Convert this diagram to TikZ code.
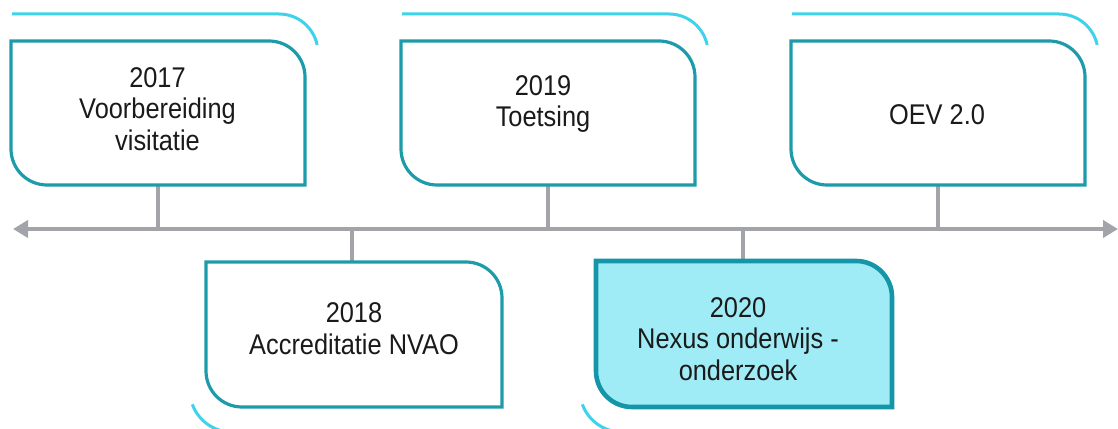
\documentclass[tikz,border=0pt]{standalone}
\usepackage{fontspec}
\setmainfont{Liberation Sans}[FakeStretch=0.89]
\usetikzlibrary{arrows.meta}
\definecolor{tealline}{HTML}{1E9BAB}
\definecolor{tealdark}{HTML}{1596A8}
\definecolor{accentc}{HTML}{3DD3EB}
\definecolor{hlfill}{HTML}{A0ECF6}
\definecolor{greyline}{HTML}{A3A4A9}
\definecolor{txtc}{HTML}{1A1A1A}
\newcommand\tlshape[2]{%
  \draw[#2] (#1.north west) -- ([xshift=-36pt]#1.north east)
    arc[start angle=90,end angle=0,radius=36pt] -- (#1.south east)
    -- ([xshift=36pt]#1.south west)
    arc[start angle=270,end angle=180,radius=36pt] -- cycle;}
\tikzset{
  boxn/.style={draw=none, minimum width=294pt, minimum height=144pt, inner sep=0pt, outer sep=0pt},
  boxline/.style={draw=tealline, line width=3.2pt, fill=white},
  boxhl/.style={draw=tealdark, line width=4.6pt, fill=hlfill},
  accent/.style={draw=accentc, line width=3pt},
  lbl/.style={align=center, font=\fontsize{28.5}{31.5}\selectfont, text=txtc, text depth=0pt, inner sep=0pt},
  tline/.style={draw=greyline, line width=4.5pt, {Triangle[length=15pt,width=17pt]}-{Triangle[length=15pt,width=17pt]}},
  stem/.style={draw=greyline, line width=3.5pt}
}
\begin{document}
\begin{tikzpicture}[x=1pt,y=1pt]
\clip (0,0) rectangle (1118,428);
% box placeholders
\node[boxn] (b17) at (158,315) {};
\node[boxn] (b19) at (548,315) {};
\node[boxn] (b21) at (938,315) {};
\node[boxn, minimum width=296pt, minimum height=145pt] (b18) at (354,93.5) {};
\node[boxn, minimum width=296pt, minimum height=146pt] (b20) at (744,94) {};
\coordinate (tlL) at (13,199);
\coordinate (tlR) at (1118,199);
% stems
\draw[stem] (b17.south) -- (b17.south |- tlL);
\draw[stem] (b19.south) -- (b19.south |- tlL);
\draw[stem] (b21.south) -- (b21.south |- tlL);
\draw[stem] ([xshift=-2pt]b18.north) -- ([xshift=-2pt]b18.north |- tlL);
\draw[stem] ([xshift=-1pt]b20.north) -- ([xshift=-1pt]b20.north |- tlL);
% timeline
\draw[tline] (tlR) -- (tlL);
% accents
\draw[accent] ([xshift=1pt,yshift=27pt]b17.north west) -- ++(267,0) arc[start angle=90,end angle=12,radius=39pt];
\draw[accent] ([xshift=1pt,yshift=27pt]b19.north west) -- ++(267,0) arc[start angle=90,end angle=12,radius=39pt];
\draw[accent] ([xshift=1pt,yshift=27pt]b21.north west) -- ++(267,0) arc[start angle=90,end angle=12,radius=39pt];
\draw[accent] ([xshift=-13.65pt,yshift=2.66pt]b18.south west) arc[start angle=200,end angle=270,radius=42pt] -- ++(273,0);
\draw[accent] ([xshift=-13.65pt,yshift=2.66pt]b20.south west) arc[start angle=200,end angle=270,radius=42pt] -- ++(273,0);
% boxes
\tlshape{b17}{boxline}
\tlshape{b19}{boxline}
\tlshape{b21}{boxline}
\tlshape{b18}{boxline}
\tlshape{b20}{boxhl}
% labels
\node[lbl] (t17) at (157.5,319) {2017\\Voorbereiding\\visitatie};
\node[lbl] (t19) at (543,327) {2019\\Toetsing};
\node[lbl] (t21) at (937,313.5) {OEV 2.0};
\node[lbl] (t18) at (354,99.5) {2018\\Accreditatie NVAO};
\node[lbl] (t20) at (738,89) {2020\\Nexus onderwijs -\\onderzoek};
\end{tikzpicture}
\end{document}
